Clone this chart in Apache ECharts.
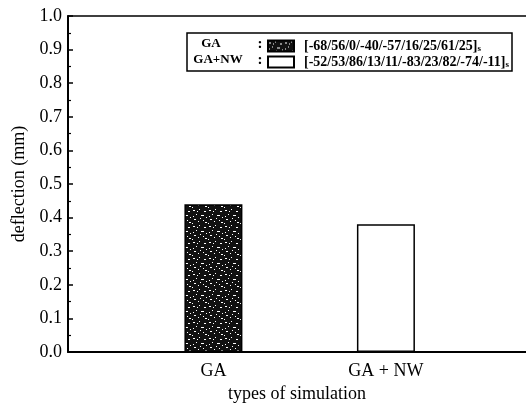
<!DOCTYPE html>
<html>
<head>
<meta charset="utf-8">
<script src="https://cdn.jsdelivr.net/npm/echarts@6/dist/echarts.min.js"></script>
<style>
  html, body { margin: 0; padding: 0; background: #fff; }
  #chart { width: 526px; height: 409px; }
</style>
</head>
<body>
<div id="chart"></div>
<script>
// categories and values
const categories = ['GA', 'GA + NW'];
const legendNames = ['GA', 'GA+NW'];
const layups = ['[-68/56/0/-40/-57/16/25/61/25]', '[-52/53/86/13/11/-83/23/82/-74/-11]'];
const deflection = [0.44, 0.38];
const yTicks = [0, 0.1, 0.2, 0.3, 0.4, 0.5, 0.6, 0.7, 0.8, 0.9, 1.0];

const FONT = '"Liberation Serif", "DejaVu Serif", serif';

// speckled texture for the GA bar (fixed pattern, style only)
function speckle() {
  const c = document.createElement('canvas');
  c.width = 16;
  c.height = 16;
  const ctx = c.getContext('2d');
  ctx.fillStyle = '#111';
  ctx.fillRect(0, 0, 16, 16);
  ctx.fillStyle = '#fff';
  const marks = [[1, 2, 2, 1], [7, 1, 1, 1], [12, 3, 2, 1], [4, 6, 1, 1], [9, 7, 3, 1], [5, 3, 1, 1],
    [14, 9, 1, 1], [2, 11, 2, 1], [6, 13, 1, 1], [11, 12, 1, 1], [0, 15, 1, 1], [13, 14, 2, 1],
    [8, 10, 1, 1], [1, 8, 1, 1]];
  marks.forEach(([x, y, w, h]) => ctx.fillRect(x, y, w, h));
  return { image: c, repeat: 'repeat' };
}

const chart = echarts.init(document.getElementById('chart'));
const barStyles = [
  { color: speckle(), borderColor: '#000', borderWidth: 1.5 },
  { color: '#fff', borderColor: '#000', borderWidth: 1.5 },
];

const series = categories.map((cat, i) => ({
  name: legendNames[i],
  type: 'bar',
  barWidth: 58,
  barGap: '-100%',
  itemStyle: barStyles[i],
  data: [[i + 1, deflection[i]]],
}));

const legendLabel = (text, x, y, size) => ({
  type: 'text',
  x,
  y,
  style: { text, fontFamily: FONT, fontSize: size, fontWeight: 'bold', fill: '#000', align: 'center', verticalAlign: 'middle' },
});

chart.setOption({
  animation: false,
  grid: { left: 68, right: 0, top: 16, bottom: 57 },
  xAxis: [
    {
      type: 'value',
      min: 0.157,
      max: 2.812,
      name: 'types of simulation',
      nameLocation: 'middle',
      nameGap: 30,
      nameTextStyle: { fontFamily: FONT, fontSize: 18, color: '#000' },
      axisLine: { show: true, lineStyle: { color: '#000', width: 2 } },
      axisTick: { show: false },
      splitLine: { show: false },
      axisLabel: {
        customValues: [1, 2],
        formatter: (v) => categories[Math.round(v) - 1] || '',
        fontFamily: FONT,
        fontSize: 18,
        color: '#000',
        margin: 10,
      },
    },
    {
      type: 'value',
      position: 'top',
      min: 0,
      max: 1,
      axisLine: { show: true, onZero: false, lineStyle: { color: '#000', width: 1.5 } },
      axisTick: { show: false },
      axisLabel: { show: false },
      splitLine: { show: false },
    },
  ],
  yAxis: {
    type: 'value',
    min: 0,
    max: 1,
    interval: 0.1,
    name: 'deflection (mm)',
    nameLocation: 'middle',
    nameGap: 39,
    nameTextStyle: { fontFamily: FONT, fontSize: 18, color: '#000' },
    axisLine: { show: true, lineStyle: { color: '#000', width: 2 } },
    axisTick: { show: true, inside: true, length: 5, lineStyle: { color: '#000', width: 1.5 } },
    minorTick: { show: true, splitNumber: 2, length: 3, lineStyle: { color: '#000', width: 1.2 } },
    splitLine: { show: false },
    axisLabel: {
      customValues: yTicks,
      formatter: (v) => v.toFixed(1),
      fontFamily: FONT,
      fontSize: 18,
      color: '#000',
      margin: 6,
    },
  },
  legend: {
    orient: 'vertical',
    left: 262,
    top: 33,
    itemWidth: 26,
    itemHeight: 11,
    itemGap: 0,
    icon: 'rect',
    data: legendNames,
    textStyle: {
      fontFamily: FONT,
      fontSize: 14,
      color: '#000',
      lineHeight: 16,
      padding: [0, 0, 0, 5],
      rich: {
        t: { fontFamily: FONT, fontSize: 14, fontWeight: 'bold', color: '#000', lineHeight: 16 },
        s: { fontFamily: FONT, fontSize: 9, fontWeight: 'bold', color: '#000', lineHeight: 16, padding: [6, 0, 0, 0] },
      },
    },
    formatter: (name) => `{t|${layups[legendNames.indexOf(name)]}}{s|s}`,
  },
  graphic: [
    { type: 'rect', shape: { x: 187, y: 33, width: 325, height: 38 }, style: { fill: 'none', stroke: '#000', lineWidth: 1.5 }, z: 10 },
    legendLabel(legendNames[0], 211, 44, 13),
    legendLabel(legendNames[1], 218, 60, 13),
    legendLabel(':', 260, 44, 15),
    legendLabel(':', 260, 60, 15),
  ],
  series,
});
</script>
</body>
</html>
